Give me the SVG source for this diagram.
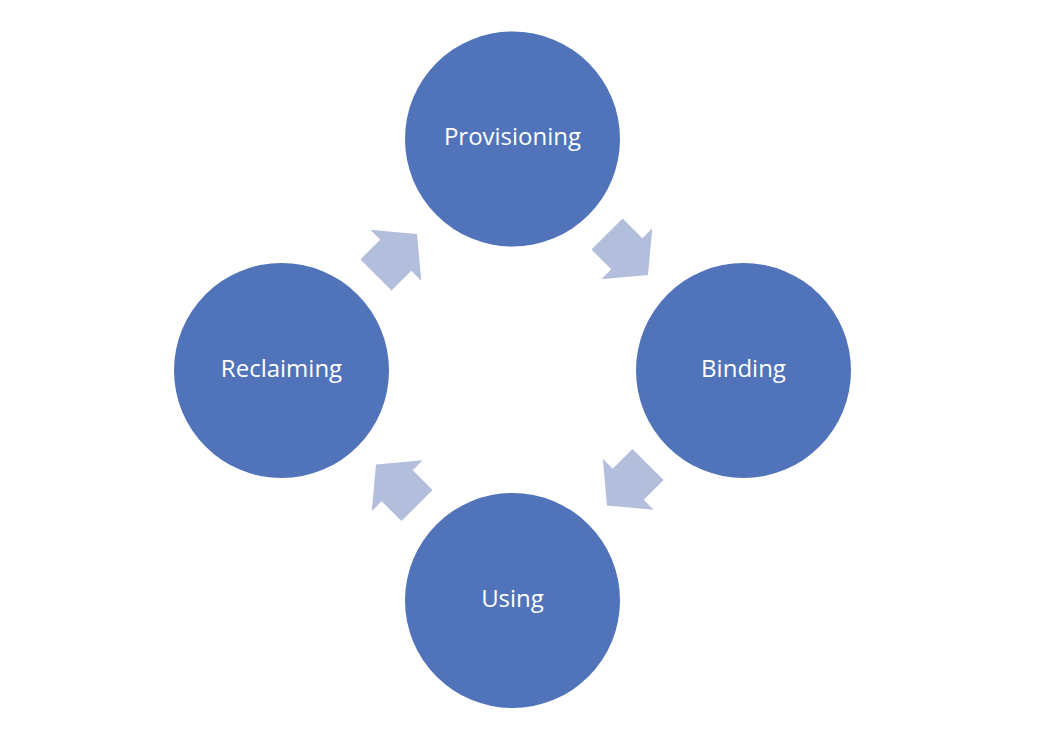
<svg xmlns="http://www.w3.org/2000/svg" width="1044" height="732" viewBox="0 0 1044 732">
  <defs>
    <style>
      .node circle { fill: #5073BA; }
      .node text { fill: #FFFFFF; font-family: "Open Sans", "Noto Sans", "Liberation Sans", sans-serif; font-size: 24px; text-anchor: middle; }
      .flow { fill: #B2BEDC; }
    </style>
    <!-- block arrow pointing along +x, centred on the origin -->
    <polygon id="blockArrow" points="-29,-22 -1,-22 -1,-36 29,0 -1,36 -1,22 -29,22"/>
  </defs>
  <rect width="1044" height="732" fill="#FFFFFF"/>

  <g id="connectors">
    <use href="#blockArrow" class="flow" transform="translate(627.5,254.5) rotate(45)"/>
    <use href="#blockArrow" class="flow" transform="translate(627.5,485) rotate(135)"/>
    <use href="#blockArrow" class="flow" transform="translate(396.5,485) rotate(225)"/>
    <use href="#blockArrow" class="flow" transform="translate(396.5,254.5) rotate(315)"/>
  </g>

  <g id="provisioning" class="node">
    <circle cx="512.5" cy="139" r="107.5"/>
    <text x="512.5" y="145">Provisioning</text>
  </g>
  <g id="binding" class="node">
    <circle cx="743.5" cy="370.5" r="107.5"/>
    <text x="743.5" y="377">Binding</text>
  </g>
  <g id="using" class="node">
    <circle cx="512.5" cy="600.5" r="107.5"/>
    <text x="512.5" y="607">Using</text>
  </g>
  <g id="reclaiming" class="node">
    <circle cx="281.5" cy="370.5" r="107.5"/>
    <text x="281.5" y="377">Reclaiming</text>
  </g>
</svg>
